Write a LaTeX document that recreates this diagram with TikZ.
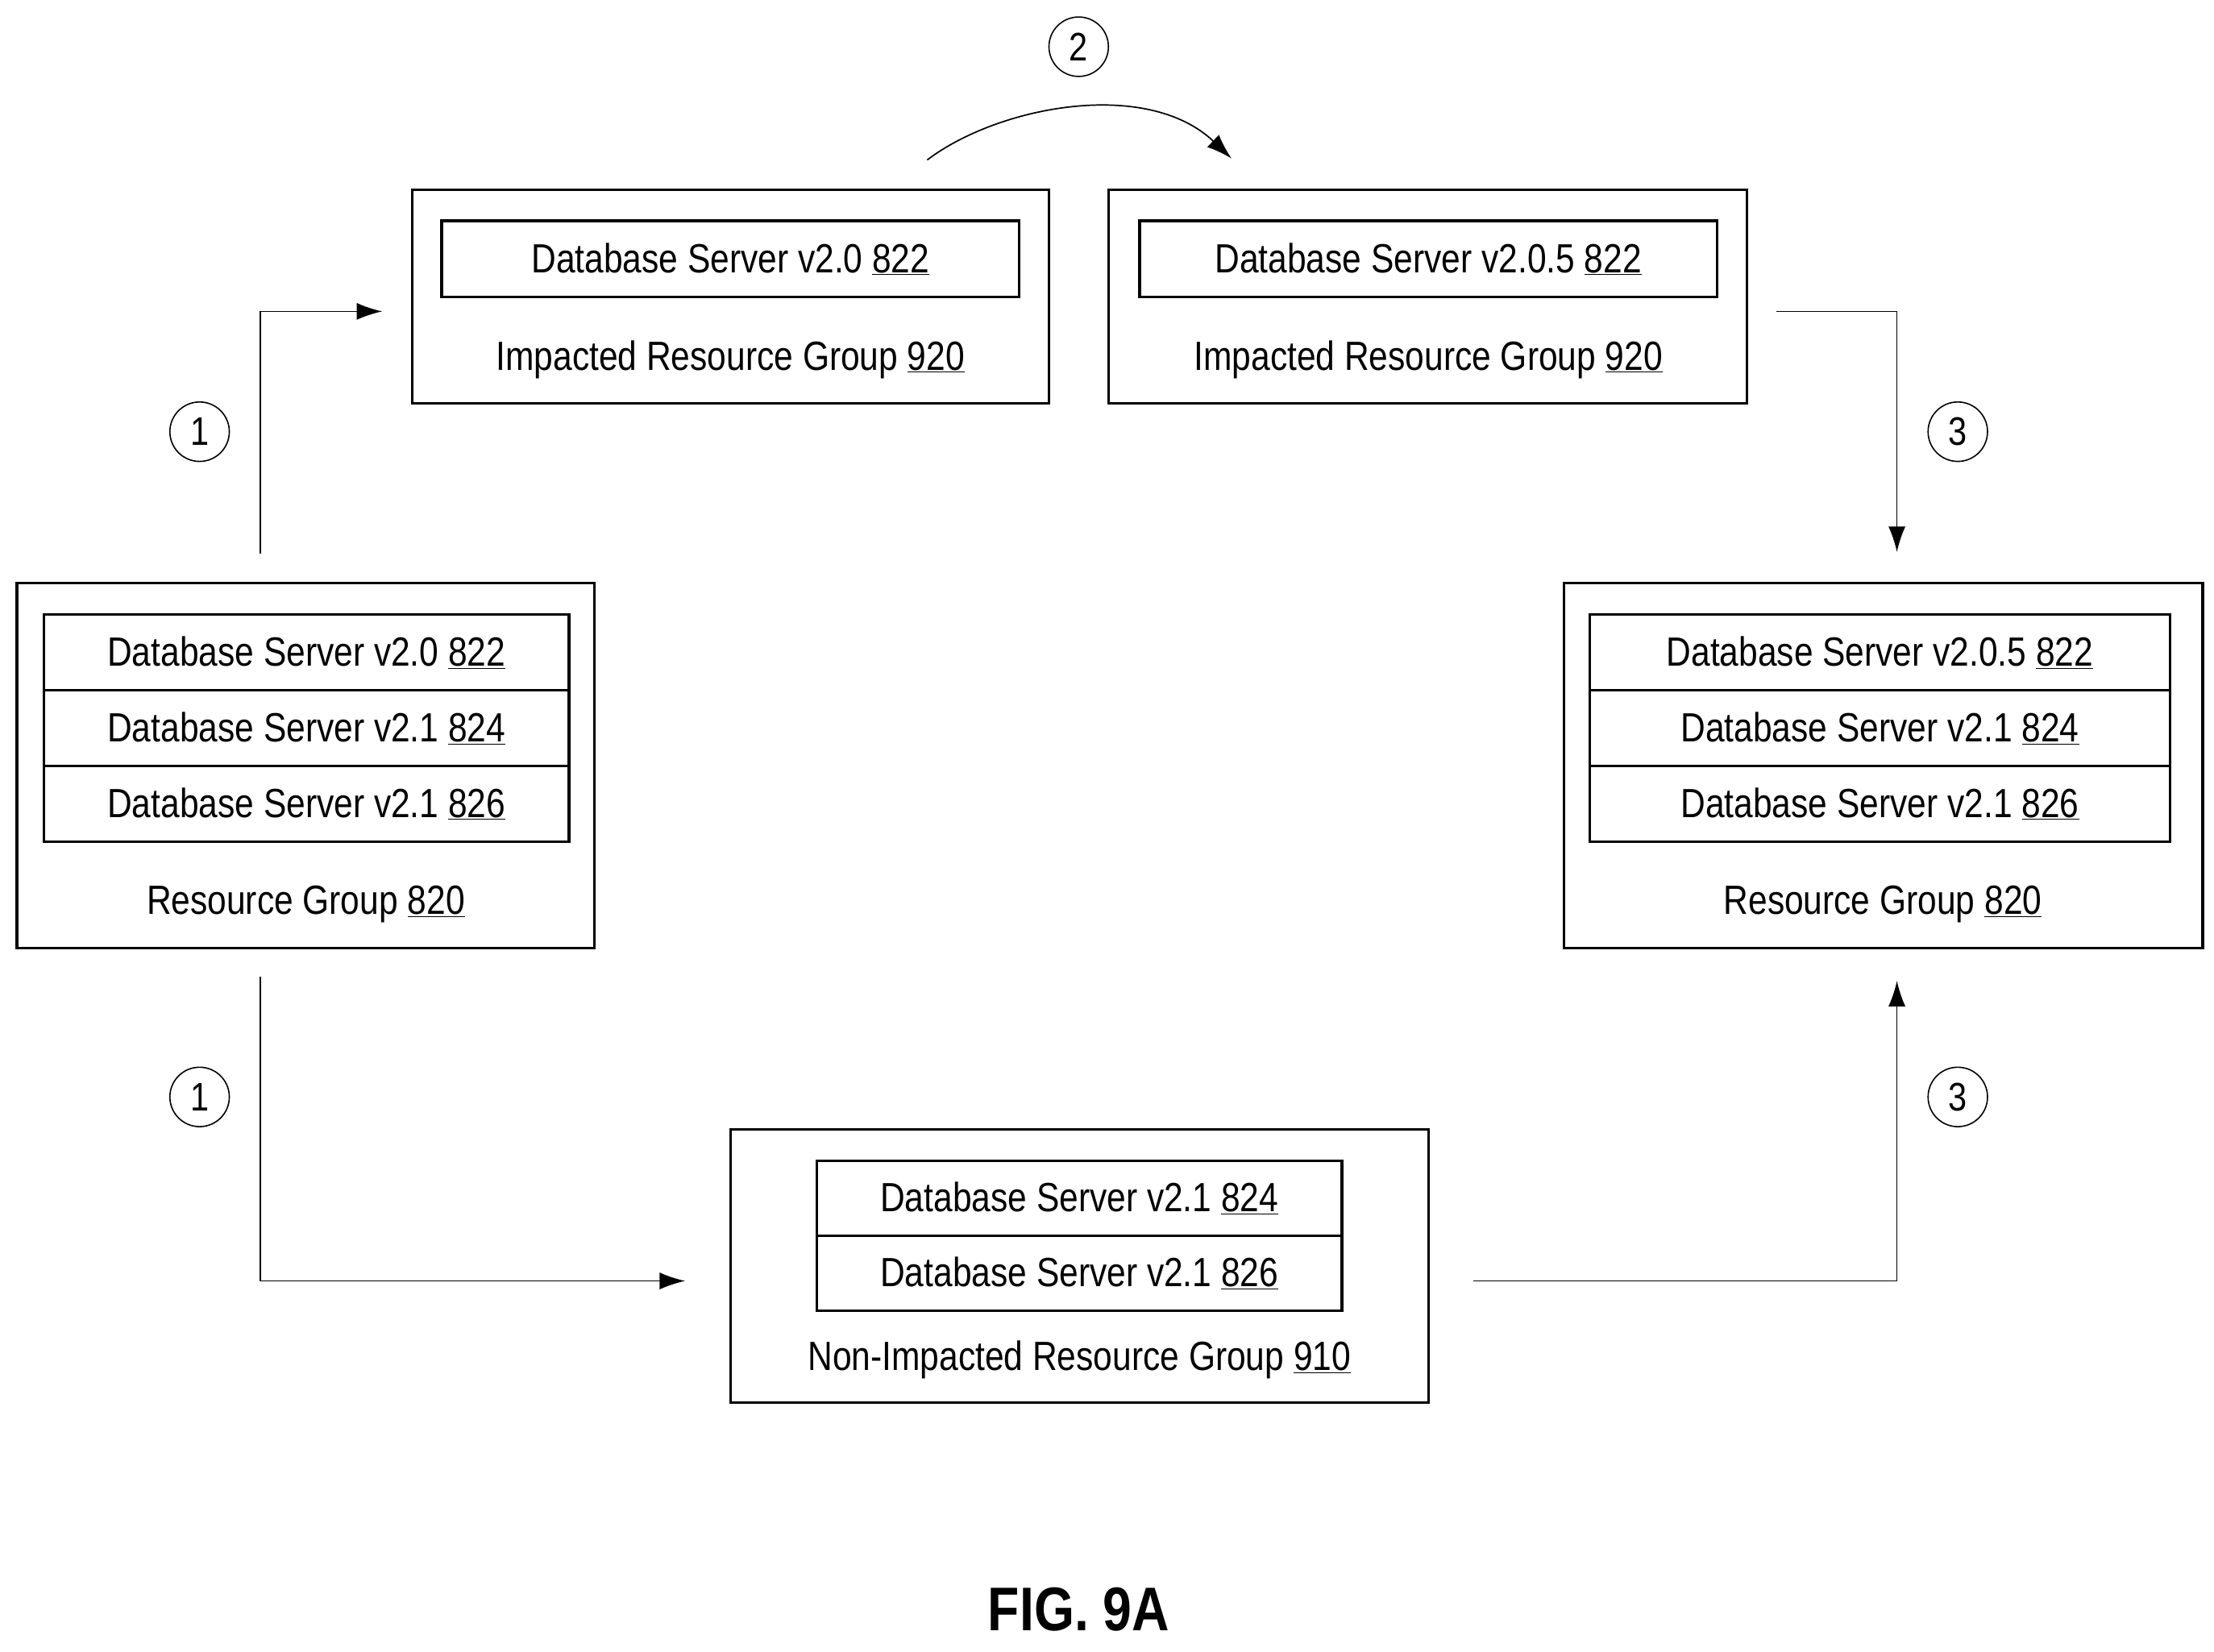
\documentclass[tikz,border=0pt]{standalone}
\usepackage{fontspec}
\setmainfont{Liberation Sans}[FakeStretch=0.84]
\usetikzlibrary{arrows.meta}
\begin{document}
\begin{tikzpicture}[x=0.05cm,y=-0.05cm,
  box/.style={draw,line width=2.6pt,minimum width=#1,inner sep=0pt},
  row/.style={draw,line width=2.6pt,minimum width=#1,minimum height=2.68cm,inner sep=0pt,font=\fontsize{41}{45}\selectfont},
  lab/.style={font=\fontsize{41}{45}\selectfont,inner sep=0pt},
  num/.style={draw,circle,line width=1.3pt,minimum size=2.1cm,inner sep=0pt,font=\fontsize{40}{44}\selectfont},
  conn/.style={line width=1.4pt,-{Latex[length=0.9cm,width=0.6cm]}}]
\useasboundingbox (0,0) rectangle (1564,1167);
% left resource group
\node[box=20.4cm,minimum height=12.9cm] (rgL) at (216,541) {};
\node[row=18.55cm] (l1) at (216.5,461) {Database Server v2.0 \underline{822}};
\node[row=18.55cm] (l2) at (216.5,514.5) {Database Server v2.1 \underline{824}};
\node[row=18.55cm] (l3) at (216.5,568) {Database Server v2.1 \underline{826}};
\node[lab] (rgLl) at (216,639) {Resource Group \underline{820}};
% right resource group
\node[box=22.55cm,minimum height=12.9cm] (rgR) at (1330.5,541) {};
\node[row=20.5cm] (r1) at (1328,461) {Database Server v2.0.5 \underline{822}};
\node[row=20.5cm] (r2) at (1328,514.5) {Database Server v2.1 \underline{824}};
\node[row=20.5cm] (r3) at (1328,568) {Database Server v2.1 \underline{826}};
\node[lab] (rgRl) at (1330,639) {Resource Group \underline{820}};
% impacted
\node[box=22.5cm,minimum height=7.55cm] (imL) at (516,209.5) {};
\node[row=20.4cm,minimum height=2.7cm] (imL1) at (516,183) {Database Server v2.0 \underline{822}};
\node[lab] (imLl) at (516,254) {Impacted Resource Group \underline{920}};
\node[box=22.55cm,minimum height=7.55cm] (imR) at (1008.5,209.5) {};
\node[row=20.4cm,minimum height=2.7cm] (imR1) at (1009,183) {Database Server v2.0.5 \underline{822}};
\node[lab] (imRl) at (1009,254) {Impacted Resource Group \underline{920}};
% non-impacted
\node[box=24.65cm,minimum height=9.65cm] (ni) at (762.5,894.5) {};
\node[row=18.55cm,minimum height=2.65cm] (ni1) at (762.5,846.5) {Database Server v2.1 \underline{824}};
\node[row=18.55cm,minimum height=2.65cm] (ni2) at (762.5,899.5) {Database Server v2.1 \underline{826}};
\node[lab] (nil) at (762.5,961) {Non-Impacted Resource Group \underline{910}};
% connector endpoints
\coordinate (a1s) at (184,391); \coordinate (a1e) at (270,220);
\coordinate (b1s) at (184,690); \coordinate (b1e) at (484,905);
\coordinate (c2s) at (655,113); \coordinate (c2e) at (870,112);
\coordinate (d3s) at (1255,220); \coordinate (d3e) at (1340,390);
\coordinate (e3s) at (1041,905); \coordinate (e3e) at (1340,693);
\draw[conn] (a1s) |- (a1e);
\draw[conn] (b1s) |- (b1e);
\draw[conn] (c2s) .. controls (705,75) and (810,55) .. (c2e);
\draw[conn] (d3s) -| (d3e);
\draw[conn] (e3s) -| (e3e);
\node[num] (n1a) at (141,305) {1};
\node[num] (n1b) at (141,775) {1};
\node[num] (n2) at (762,33) {2};
\node[num] (n3a) at (1383,305) {3};
\node[num] (n3b) at (1383,775) {3};
\node[font=\bfseries\fontsize{62}{66}\selectfont,inner sep=0pt] (fig) at (762,1137) {FIG. 9A};
\end{tikzpicture}
\end{document}
